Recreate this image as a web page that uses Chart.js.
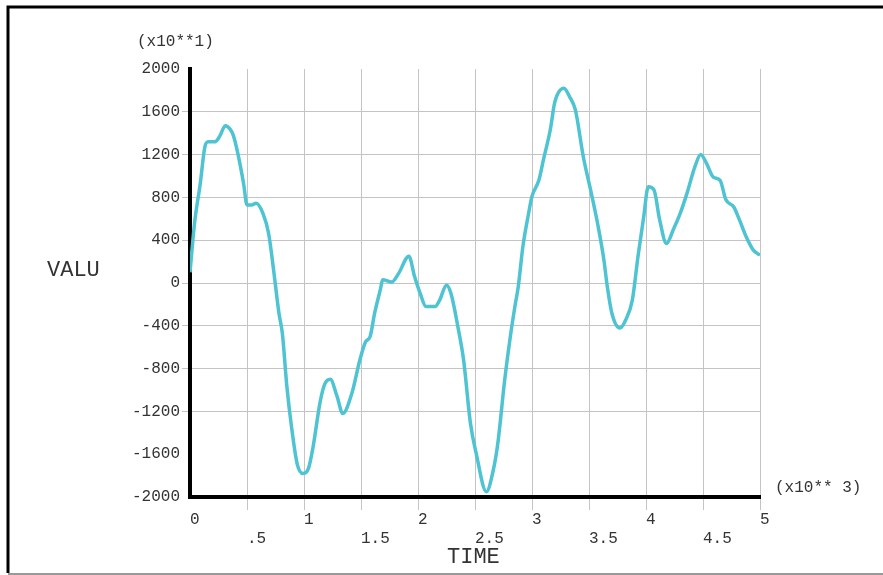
<!DOCTYPE html>
<html><head><meta charset="utf-8">
<script src="https://cdn.jsdelivr.net/npm/chart.js@4/dist/chart.umd.min.js"></script>
<style>html,body{margin:0;padding:0;background:#fff;overflow:hidden}</style>
</head><body>
<canvas id="c" width="883" height="575"></canvas>
<script>
// TIME values (x10**3)
const timeValues = [0,0.04,0.09,0.13,0.16,0.22,0.26,0.31,0.35,0.38,0.42,0.47,0.50,0.54,0.58,0.64,0.69,0.73,0.78,0.81,0.85,0.89,0.94,0.99,1.04,1.08,1.14,1.18,1.23,1.29,1.34,1.42,1.49,1.54,1.58,1.62,1.67,1.69,1.77,1.83,1.92,1.97,2.02,2.07,2.15,2.19,2.25,2.29,2.35,2.40,2.46,2.51,2.60,2.66,2.70,2.76,2.81,2.85,2.88,2.92,2.97,3.00,3.06,3.10,3.16,3.20,3.28,3.33,3.38,3.45,3.52,3.58,3.63,3.66,3.70,3.77,3.82,3.88,3.93,3.98,4.02,4.07,4.12,4.18,4.24,4.30,4.36,4.43,4.48,4.53,4.59,4.65,4.70,4.77,4.82,4.88,4.94,5.00];
// VALU values (x10**1)
const valuValues = [100,560,930,1270,1320,1320,1370,1470,1440,1380,1210,930,730,730,745,650,460,150,-280,-470,-970,-1340,-1690,-1780,-1730,-1530,-1120,-950,-900,-1060,-1220,-1030,-720,-550,-500,-280,-60,30,10,90,250,60,-100,-220,-220,-160,-20,-100,-410,-720,-1310,-1590,-1950,-1750,-1500,-910,-500,-220,-30,340,650,810,960,1150,1430,1690,1820,1740,1620,1180,840,530,220,-30,-280,-420,-350,-160,250,620,900,870,590,370,500,650,840,1090,1200,1120,990,960,780,710,590,430,310,260];
// Axis settings / labels
const yMin = -2000, yMax = 2000, yStep = 400;
const xMin = 0, xMax = 5, xStep = 0.5;
const yMultiplierLabel = '(x10**1)';
const xMultiplierLabel = '(x10** 3)';
const yTitle = 'VALU';
const xTitle = 'TIME';

const points = timeValues.map((t, i) => ({x: t, y: valuValues[i]}));
const FONT = '"Liberation Mono", "DejaVu Sans Mono", monospace';
const GRID = '#c4c4c4';

const decor = {
  id: 'decor',
  beforeDraw(chart) {
    const ctx = chart.ctx;
    ctx.save();
    ctx.fillStyle = '#fff';
    ctx.fillRect(0, 0, chart.width, chart.height);
    ctx.restore();
  },
  afterDraw(chart) {
    const ctx = chart.ctx;
    ctx.save();
    ctx.fillStyle = '#333';
    ctx.textBaseline = 'middle';
    ctx.textAlign = 'left';
    ctx.font = '16px ' + FONT;
    ctx.fillText(yMultiplierLabel, 137, 42);
    ctx.fillText(xMultiplierLabel, 775, 488);
    ctx.font = '22px ' + FONT;
    ctx.fillText(yTitle, 47, 270);
    ctx.fillText(xTitle, 447, 557);
    // frame
    ctx.strokeStyle = '#000';
    ctx.lineWidth = 3;
    ctx.beginPath();
    ctx.moveTo(8, 573); ctx.lineTo(8, 7); ctx.lineTo(883, 7);
    ctx.stroke();
    ctx.strokeStyle = '#999';
    ctx.lineWidth = 2;
    ctx.beginPath();
    ctx.moveTo(8, 574); ctx.lineTo(883, 574);
    ctx.stroke();
    ctx.restore();
  }
};

new Chart(document.getElementById('c'), {
  type: 'line',
  data: {
    datasets: [{
      data: points,
      borderColor: '#4ec3d1',
      borderWidth: 3.5,
      pointRadius: 0,
      fill: false,
      cubicInterpolationMode: 'monotone'
    }]
  },
  options: {
    responsive: false,
    animation: false,
    devicePixelRatio: 1,
    layout: {padding: {top: 69, right: 123, left: 0, bottom: 0}},
    plugins: {legend: {display: false}, tooltip: {enabled: false}, title: {display: false}},
    scales: {
      x: {
        type: 'linear',
        min: xMin, max: xMax,
        afterFit(s) { s.height = 78; },
        ticks: {
          stepSize: xStep,
          autoSkip: false,
          maxRotation: 0,
          align: 'start',
          padding: 0,
          color: '#333',
          font: {family: FONT, size: 16, lineHeight: 1.2},
          callback(v) {
            if (Number.isInteger(v)) return [String(v), ''];
            const s = v < 1 ? '.5' : v.toFixed(1);
            return ['', s];
          }
        },
        grid: {
          color: (c) => (c.tick && c.tick.value === 0) ? 'rgba(0,0,0,0)' : GRID,
          lineWidth: 1,
          tickLength: 13
        },
        border: {display: true, color: '#000', width: 4}
      },
      y: {
        type: 'linear',
        min: yMin, max: yMax,
        afterFit(s) { s.width = 190; },
        ticks: {
          stepSize: yStep,
          padding: 2,
          color: '#333',
          font: {family: FONT, size: 16},
          callback(v) { return String(v); }
        },
        grid: {
          color: (c) => (c.tick && c.tick.value >= -1200 && c.tick.value <= 1600) ? GRID : 'rgba(0,0,0,0)',
          lineWidth: 1,
          tickLength: 8
        },
        border: {display: true, color: '#000', width: 4}
      }
    }
  },
  plugins: [decor]
});
</script>
</body></html>
